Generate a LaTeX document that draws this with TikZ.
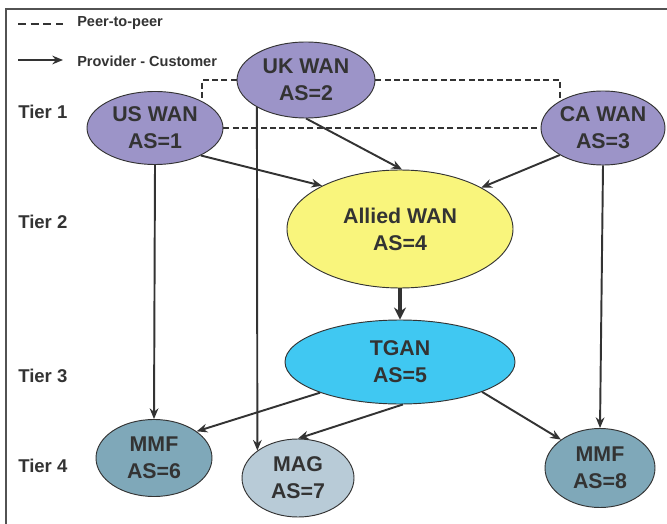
\documentclass[tikz,border=0pt]{standalone}
\usepackage{fontspec}
\setmainfont{Liberation Sans}
\usetikzlibrary{arrows.meta,shapes.geometric}

\definecolor{tierone}{HTML}{9C94C8}
\definecolor{alliedfill}{HTML}{F9F57C}
\definecolor{tganfill}{HTML}{40C8F2}
\definecolor{mmffill}{HTML}{7FA8B9}
\definecolor{magfill}{HTML}{B8CBD7}
\definecolor{ink}{HTML}{333333}

\tikzset{
  asnode/.style={ellipse, draw=ink, line width=0.7pt, inner sep=0pt,
    align=center, text=ink, font=\bfseries\fontsize{16}{20.25}\selectfont},
  tierlabel/.style={anchor=west, inner sep=0pt, text=ink, font=\bfseries\fontsize{13.9}{16}\selectfont},
  legendtext/.style={anchor=west, inner sep=0pt, text=ink, font=\bfseries\fontsize{10.9}{13}\selectfont},
  provider/.style={draw=ink, line width=1.45pt, -{Stealth[length=8pt,width=6.5pt]}},
  peer/.style={draw=ink, line width=1.3pt, dash pattern=on 4.5pt off 2.5pt},
}

\begin{document}
\begin{tikzpicture}[x=0.75pt, y=-0.75pt]
  \useasboundingbox (0,0) rectangle (667,524);

  % frame on the left and top edges
  \draw[ink!85, line width=0.8pt] (6,524) -- (6,9) -- (667,9);

  % legend
  \coordinate (lpa) at (18,24);
  \coordinate (lpb) at (63,24);
  \coordinate (lca) at (18,60);
  \coordinate (lcb) at (63,60);
  \draw[peer, line width=2pt, dash pattern=on 6pt off 3.5pt] (lpa) -- (lpb);
  \draw[provider] (lca) -- (lcb);
  \node[legendtext] (lpt) at (77,23) {Peer-to-peer};
  \node[legendtext] (lct) at (77,61) {Provider - Customer};

  % tier labels
  \node[tierlabel] (t1) at (18,112) {Tier 1};
  \node[tierlabel] (t2) at (18,222) {Tier 2};
  \node[tierlabel] (t3) at (18,376) {Tier 3};
  \node[tierlabel] (t4) at (18,466) {Tier 4};

  % autonomous systems
  \node[asnode, fill=tierone, minimum width=102pt, minimum height=54.75pt]
    (us) at (155,128) {US WAN\\AS=1};
  \node[asnode, fill=tierone, minimum width=103.5pt, minimum height=57pt]
    (uk) at (306,80) {UK WAN\\AS=2};
  \node[asnode, fill=tierone, minimum width=93pt, minimum height=55.5pt]
    (ca) at (603,128) {CA WAN\\AS=3};
  \node[asnode, fill=alliedfill, minimum width=169.5pt, minimum height=88.5pt]
    (allied) at (400,229) {Allied WAN\\AS=4};
  \node[asnode, fill=tganfill, minimum width=172.5pt, minimum height=63pt]
    (tgan) at (400,362) {TGAN\\AS=5};
  \node[asnode, fill=mmffill, minimum width=87pt, minimum height=57.75pt]
    (mmf6) at (154,458) {MMF\\AS=6};
  \node[asnode, fill=magfill, minimum width=84pt, minimum height=58.5pt]
    (mag) at (298,478) {MAG\\AS=7};
  \node[asnode, fill=mmffill, minimum width=82.5pt, minimum height=59.25pt]
    (mmf8) at (600,468) {MMF\\AS=8};

  % peer-to-peer links
  \draw[peer] (us.east) -- (ca.west);
  \draw[peer] (uk.west) -| (us.30);
  \draw[peer] (uk.east) -| (ca.148);

  % provider-customer links
  \draw[provider] (us.-31) -- (allied.151);
  \draw[provider] (uk.south) -- (allied.88);
  \draw[provider] (ca.-148) -- (allied.27);
  \draw[provider, line width=2.8pt, -{Stealth[length=9pt,width=9pt]}] (allied.south) -- (tgan.north);
  \draw[provider] (us.south) -- (mmf6.north);
  \draw[provider] (uk.209) -- (mag.146);
  \draw[provider] (ca.south) -- (mmf8.north);
  \draw[provider] (tgan.201) -- (mmf6.32);
  \draw[provider] (tgan.-86) -- (mag.north);
  \draw[provider] (tgan.-20) -- (mmf8.144);
\end{tikzpicture}
\end{document}
